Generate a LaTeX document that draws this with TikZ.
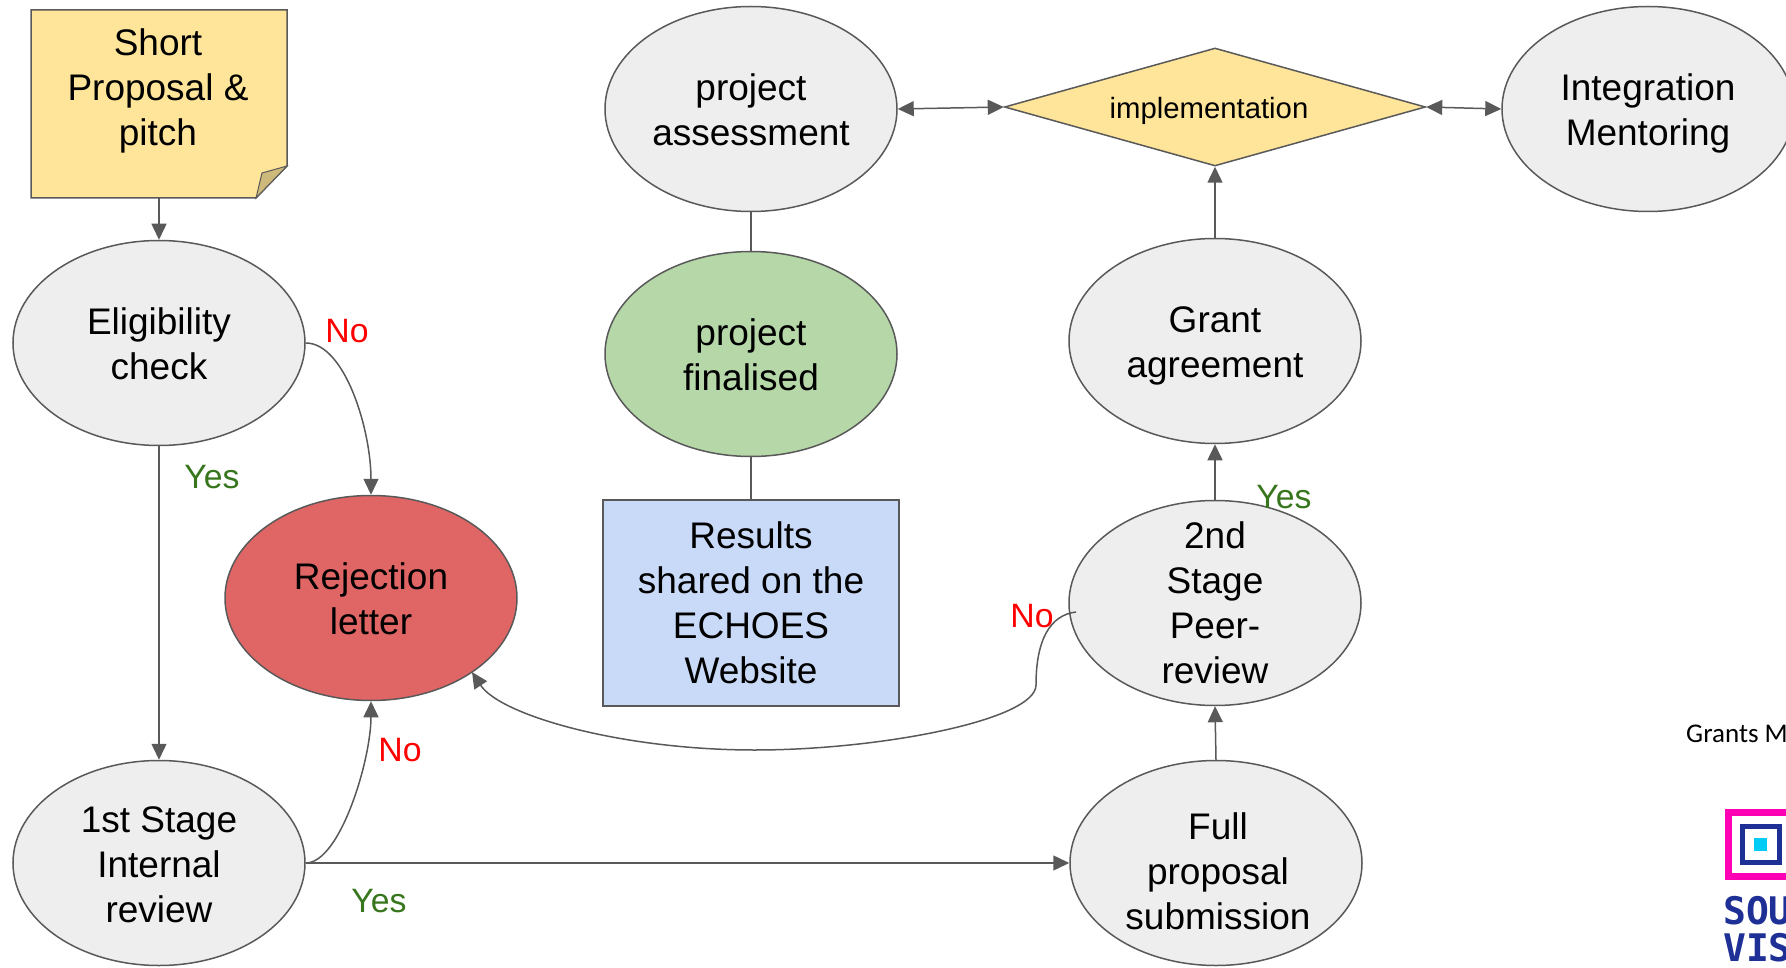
\documentclass[tikz,border=0pt]{standalone}
\usepackage{fontspec}
\setmainfont{Liberation Sans}
\newfontfamily\carl{Carlito}
\newfontfamily\logofont{DejaVu Sans Mono}
\usetikzlibrary{arrows.meta,shapes.geometric}
\definecolor{edgegray}{HTML}{595959}
\definecolor{nodegray}{HTML}{EEEEEE}
\definecolor{noteyellow}{HTML}{FFE599}
\definecolor{foldtan}{HTML}{CDBA7A}
\definecolor{rejred}{HTML}{E06666}
\definecolor{fingreen}{HTML}{B6D7A8}
\definecolor{resblue}{HTML}{C9DAF8}
\definecolor{yesgreen}{HTML}{38761D}
\definecolor{logopink}{HTML}{FF00B4}
\definecolor{logonavy}{HTML}{1E2F96}
\definecolor{logocyan}{HTML}{00CCF5}
\tikzset{
  x=1pt,y=-1pt,
  blob/.style={ellipse,draw=edgegray,line width=1.5pt,fill=#1,minimum width=292pt,minimum height=205pt,inner sep=0pt},
  blob/.default=nodegray,
  txt/.style={inner sep=0pt,align=center,font=\fontsize{37}{45}\selectfont},
  conn/.style={draw=edgegray,line width=1.5pt,-{Triangle[length=16pt,width=15pt]}},
  both/.style={draw=edgegray,line width=1.5pt,{Triangle[length=16pt,width=15pt]}-{Triangle[length=16pt,width=15pt]}},
  plain/.style={draw=edgegray,line width=1.5pt},
  nolabel/.style={text=red,font=\fontsize{33.8}{40}\selectfont},
  yeslabel/.style={text=yesgreen,font=\fontsize{33.8}{40}\selectfont},
}
\begin{document}
\begin{tikzpicture}
\useasboundingbox (0,0) rectangle (1786,968);
\clip (0,0) rectangle (1786,968);
% sticky note
\path[fill=noteyellow,draw=edgegray,line width=1.5pt] (31,10) -- (287,10) -- (287,166) -- (256,198) -- (31,198) -- cycle;
\path[fill=foldtan,draw=edgegray,line width=1pt] (287,166) -- (262,173) -- (256,198) -- cycle;
\node[txt] (note) at (158,91) {Short\\Proposal \&\\pitch};
\coordinate (noteb) at (159,198);
% shapes
\node[blob] (elig) at (159,343) {};
\node[blob] (first) at (159,863) {};
\node[blob=rejred] (rej) at (371,598) {};
\node[blob] (assess) at (751,109) {};
\node[blob=fingreen] (final) at (751,354) {};
\node[draw=edgegray,line width=1.5pt,fill=resblue,minimum width=296pt,minimum height=206pt,inner sep=0pt] (res) at (751,603) {};
\node[blob] (grant) at (1215,341) {};
\node[blob] (second) at (1215,603) {};
\node[blob] (full) at (1216,863) {};
\node[blob] (integ) at (1648,109) {};
\node[diamond,aspect=3.57,draw=edgegray,line width=1.5pt,fill=noteyellow,minimum width=421pt,minimum height=118pt,inner sep=0pt] (impl) at (1215,107) {};
% texts
\node[txt] (t-elig) at (159,344) {Eligibility\\check};
\node[txt] (t-first) at (159,865) {1st Stage\\Internal\\review};
\node[txt] (t-rej) at (371,599) {Rejection\\letter};
\node[txt] (t-assess) at (751,110) {project\\assessment};
\node[txt] (t-final) at (751,355) {project\\finalised};
\node[txt] (t-res) at (751,603) {Results\\shared on the\\ECHOES\\Website};
\node[txt] (t-grant) at (1215,346) {Grant\\agreement};
\node[txt] (t-second) at (1215,603) {2nd\\Stage\\Peer-\\review};
\node[txt] (t-full) at (1218,871) {Full\\proposal\\submission};
\node[txt] (t-integ) at (1648,113) {Integration\\Mentoring};
\node[inner sep=0pt,font=\fontsize{29.3}{34}\selectfont] (t-impl) at (1209,111) {implementation};
% connectors
\draw[conn] (noteb) -- (elig.north);
\draw[conn] (elig.south) -- (first.north);
\draw[conn] (elig.east) .. controls (345,343) and (371,430) .. (rej.north);
\draw[conn] (first.east) .. controls (340,863) and (371,760) .. (rej.south);
\draw[conn] (first.east) -- (full.west);
\draw[conn] (full.north) -- (second.south);
\draw[conn] (second.north) -- (grant.south);
\draw[conn] (grant.north) -- (impl.south);
\draw[both] (assess.east) -- (impl.west);
\draw[both] (impl.east) -- (integ.west);
\draw[plain] (assess.south) -- (final.north);
\draw[plain] (final.south) -- (res.north);
\coordinate (rejin) at (472,672);
\coordinate (secout) at (1076,612);
\draw[conn] (secout) .. controls (1050,615) and (1036,640) .. (1036,685)
  .. controls (1036,720) and (880,750) .. (755,750)
  .. controls (620,750) and (500,715) .. (rejin);
% labels
\node[nolabel] (l1) at (347,331) {No};
\node[yeslabel] (l2) at (212,477) {Yes};
\node[nolabel] (l3) at (400,750) {No};
\node[yeslabel] (l4) at (379,901) {Yes};
\node[nolabel] (l5) at (1032,616) {No};
\node[yeslabel] (l6) at (1284,497) {Yes};
% side text and logo
\node[anchor=west,inner sep=0pt,font=\carl\fontsize{27}{30}\selectfont] (gm) at (1686,734) {Grants M};
\draw[logopink,line width=7pt] (1728.5,812.5) rectangle (1800,876.5);
\draw[logonavy,line width=5pt] (1742.5,826.5) rectangle (1779.5,862.5);
\fill[logocyan] (1754,838) rectangle (1767,851);
\node[anchor=west,inner sep=0pt,text=logonavy,font=\logofont\bfseries\fontsize{38}{40}\selectfont] (lg1) at (1723,911) {SOU};
\node[anchor=west,inner sep=0pt,text=logonavy,font=\logofont\bfseries\fontsize{38}{40}\selectfont] (lg2) at (1723,948) {VIS};
\end{tikzpicture}
\end{document}
